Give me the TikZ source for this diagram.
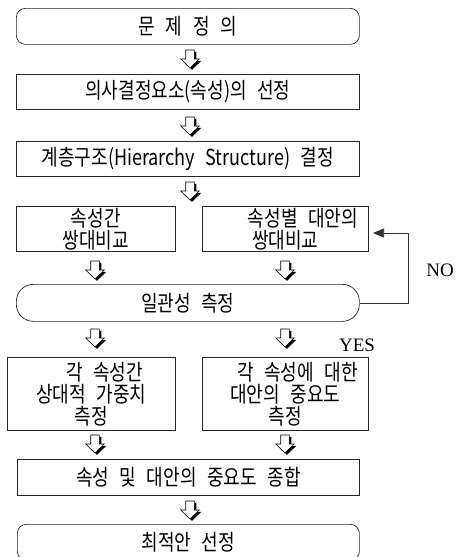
\documentclass[tikz,border=0pt]{standalone}
\usepackage{fontspec}
\setmainfont{Noto Sans CJK KR}[FakeStretch=0.82, WordSpace=2.6]
\newfontfamily\serifen{Liberation Serif}
\usetikzlibrary{arrows.meta,calc}
\tikzset{
  box/.style={draw=black!85, line width=0.7pt, inner sep=0pt, anchor=north west, align=center, font=\fontsize{22}{24}\selectfont},
  mbox/.style={box, font=\fontsize{22}{22}\selectfont},
  rbox/.style={box, rounded corners=9pt},
  sbox/.style={box, rounded corners=17pt},
  lbl/.style={font=\serifen\fontsize{19}{21}\selectfont, inner sep=0pt},
  fb/.style={draw=black!80, line width=0.7pt, -{Triangle[length=11pt,width=9pt]}},
  pics/darr/.style={code={
    \fill[black] (2,1.8) -- ++(4.3,0) -- ++(0,9) -- ++(5,0) -- ++(-9.3,9) -- ++(-9.3,-9) -- ++(5,0) -- cycle;
    \filldraw[fill=white, draw=black, line width=0.6pt] (-4.3,0) -- (4.3,0) -- (4.3,9) -- (9.3,9) -- (0,18) -- (-9.3,9) -- (-4.3,9) -- cycle;
  }}
}
\begin{document}
\begin{tikzpicture}[x=1pt,y=-1pt]
\useasboundingbox (0,0) rectangle (460,557);
\node[rbox, minimum width=343pt, minimum height=36pt] (n1) at (16,8) {문\hspace{0.5em}제\hspace{0.5em}정\hspace{0.5em}의};
\node[box, minimum width=343pt, minimum height=35pt] (n2) at (16,74) {의사결정요소(속성)의 선정};
\node[box, minimum width=343pt, minimum height=35pt] (n3) at (16,141) {계층구조(Hierarchy Structure) 결정};
\node[mbox, minimum width=159pt, minimum height=45pt] (n4l) at (16,206) {속성간\\쌍대비교};
\node[mbox, minimum width=166pt, minimum height=45pt] (n4r) at (202,206) {\hspace{1.6em}속성별 대안의\\쌍대비교};
\node[sbox, minimum width=343pt, minimum height=37pt] (n5) at (16,284) {일관성 측정};
\node[mbox, minimum width=168pt, minimum height=73pt] (n6l) at (7,357) {\hspace{1.2em}각 속성간\\상대적 가중치\\측정};
\node[mbox, minimum width=166pt, minimum height=73pt] (n6r) at (202,357) {\hspace{1.1em}각 속성에 대한\\대안의 중요도\\측정};
\node[box, minimum width=342pt, minimum height=36pt] (n7) at (17,459) {속성 및 대안의 중요도 종합};
\node[rbox, minimum width=342pt, minimum height=36pt] (n8) at (17,524) {\raisebox{2pt}{최적안 선정}};
\node[lbl] (no) at (440,270) {NO};
\node[lbl] (yes) at (357,345) {YES};
\coordinate (fbr) at (408,302);
\coordinate (fbt) at (373,233);
\draw[fb] (n5.east) -| (fbr |- fbt) -- (fbt);
\pic at (190,50) {darr};
\pic at (190,117) {darr};
\pic at (190,182) {darr};
\pic at (95,261) {darr};
\pic at (285,261) {darr};
\pic at (95,329) {darr};
\pic at (285,329) {darr};
\pic at (95,435) {darr};
\pic at (285,435) {darr};
\pic at (190,501) {darr};
\end{tikzpicture}
\end{document}
